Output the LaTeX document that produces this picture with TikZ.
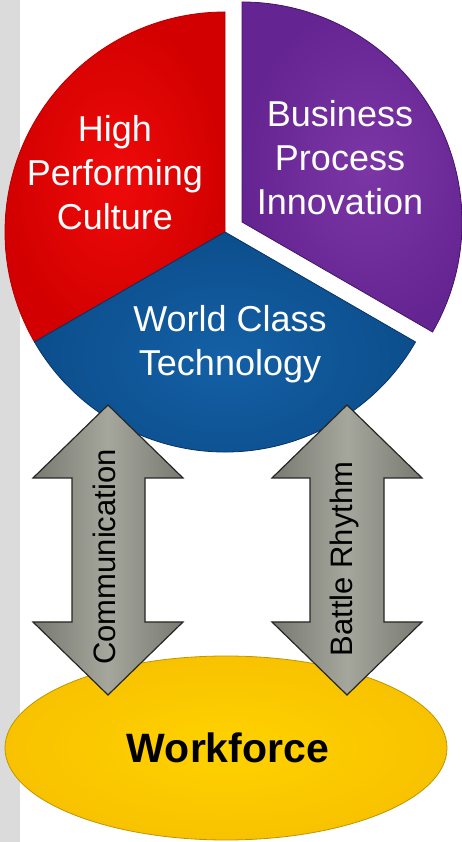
\documentclass[tikz,border=0pt]{standalone}
\usepackage{fontspec}
\setmainfont{Liberation Sans}
\begin{document}
\begin{tikzpicture}[x=1pt,y=1pt,
  wedge/.style={line width=0.8pt},
  lbl/.style={text=white,align=center,font=\fontsize{36}{44}\selectfont},
  blockarrow/.style={draw=black!85,line width=1.2pt,line join=miter,
    left color={rgb,255:red,120;green,121;blue,112},
    right color={rgb,255:red,120;green,121;blue,112},
    middle color={rgb,255:red,165;green,166;blue,156}},
  arrlbl/.style={rotate=90,text=black,font=\fontsize{31}{36}\selectfont}]
\useasboundingbox (0,0) rectangle (462,842);
\fill[black!14] (0,0) rectangle (20,842);
% pie
\path[wedge,draw=red!70!black,inner color={rgb,255:red,240;green,10;blue,10},outer color={rgb,255:red,210;green,0;blue,0}]
  (225,610) -- ++(90:220) arc[start angle=90,end angle=210,radius=220] -- cycle;
\path[wedge,draw={rgb,255:red,70;green,20;blue,100},inner color={rgb,255:red,124;green,54;blue,166},outer color={rgb,255:red,100;green,36;blue,145}]
  (242,620) -- ++(-30:220) arc[start angle=-30,end angle=90,radius=220] -- cycle;
\path[wedge,draw={rgb,255:red,8;green,50;blue,100},inner color={rgb,255:red,20;green,96;blue,166},outer color={rgb,255:red,12;green,78;blue,140}]
  (225,610) -- ++(210:220) arc[start angle=210,end angle=330,radius=220] -- cycle;
% labels
\node[lbl] (hpc) at (115,669) {High\\Performing\\Culture};
\node[lbl] (bpi) at (340,684) {Business\\Process\\Innovation};
\node[lbl] (wct) at (230,498) {World Class\\Technology};
% workforce
\path[draw={rgb,255:red,190;green,150;blue,0},line width=0.8pt,inner color={rgb,255:red,255;green,210;blue,0},outer color={rgb,255:red,248;green,194;blue,0}]
  (226,94) ellipse[x radius=221,y radius=92];
\node[font=\bfseries\fontsize{41}{48}\selectfont,anchor=base] (wf) at (228,79) {Workforce};
% arrows
\path[blockarrow] (108,437) -- (183,364) -- (145,364) -- (145,220) -- (183,220) -- (108,147)
  -- (33,220) -- (72,220) -- (72,364) -- (33,364) -- cycle;
\path[blockarrow] (347,437) -- (422,364) -- (384,364) -- (384,220) -- (422,220) -- (347,147)
  -- (272,220) -- (310,220) -- (310,364) -- (272,364) -- cycle;
\node[arrlbl] (comm) at (104,285) {Communication};
\node[arrlbl] (br) at (344,283) {Battle Rhythm};
\end{tikzpicture}
\end{document}
